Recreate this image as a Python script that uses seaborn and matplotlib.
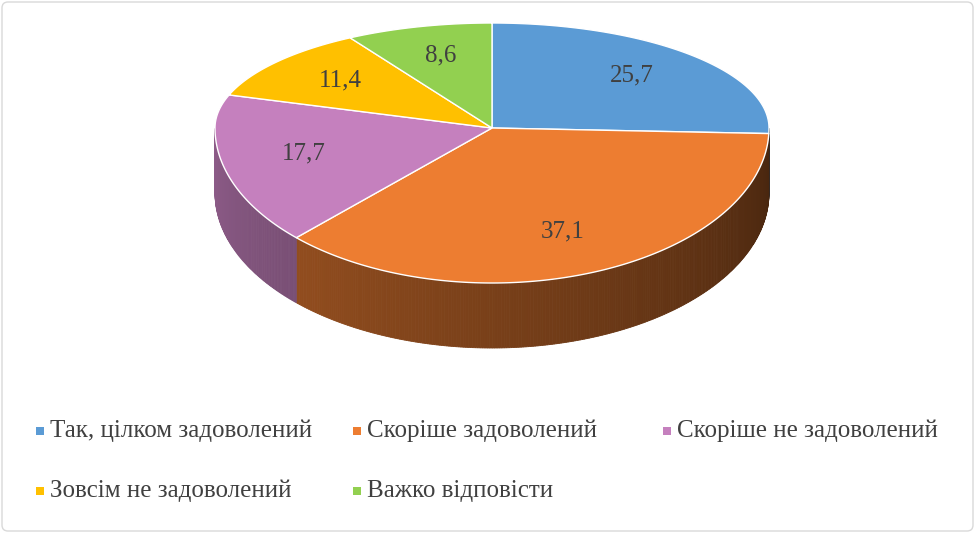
import numpy as np
import matplotlib
matplotlib.use("Agg")
import matplotlib.pyplot as plt
import seaborn as sns
from matplotlib.patches import Polygon, Rectangle, FancyBboxPatch
from matplotlib.colors import to_rgb

sns.set_style("white")
plt.rcParams['font.family'] = ['Liberation Serif', 'DejaVu Serif']

categories = ["Так, цілком задоволений", "Скоріше задоволений", "Скоріше не задоволений",
              "Зовсім не задоволений", "Важко відповісти"]
values = [25.7, 37.1, 17.7, 11.4, 8.6]
labels = ["25,7", "37,1", "17,7", "11,4", "8,6"]
colors = sns.color_palette(["#5B9BD5", "#ED7D31", "#C580BE", "#FFC000", "#92D050"])

fig = plt.figure(figsize=(9.75, 5.33), dpi=100)
ax = fig.add_axes([0, 0, 1, 1])
ax.set_xlim(0, 975); ax.set_ylim(533, 0); ax.axis("off")
ax.add_patch(FancyBboxPatch((2, 2), 971, 529, boxstyle="round,pad=0,rounding_size=6",
                            fc="white", ec="#D9D9D9", lw=1))

cx, cy, rx, ryt, ryb, depth = 492, 128, 277, 105, 155, 65

def pt(th):
    t = np.radians(th)
    s = np.sin(t)
    ry = ryt if s > 0 else ryb
    return cx + rx * np.cos(t), cy - ry * s

tot = sum(values)
starts = []
a = 90.0
for v in values:
    starts.append((a, a - v / tot * 360))
    a -= v / tot * 360

# side walls
for (a0, a1), c in zip(starts, colors):
    lo, hi = sorted([a0, a1])
    for th in np.arange(lo, hi, 0.5):
        thn = min(th + 0.5, hi)
        m = (th + thn) / 2 % 360
        if not (180 <= m <= 360):
            continue
        f = 0.72 - 0.42 * (m - 180) / 180
        col = tuple(ch * f for ch in to_rgb(c))
        p0 = pt(th); p1 = pt(thn)
        poly = [p0, p1, (p1[0], p1[1] + depth), (p0[0], p0[1] + depth)]
        ax.add_patch(Polygon(poly, closed=True, fc=col, ec=col, lw=0.6))

# top faces
for (a0, a1), c, lab in zip(starts, colors, labels):
    ths = np.linspace(a0, a1, 200)
    pts = [(cx, cy)] + [pt(t) for t in ths]
    ax.add_patch(Polygon(pts, closed=True, fc=c, ec="white", lw=1))
    m = (a0 + a1) / 2
    t = np.radians(m)
    ry = ryt if np.sin(t) > 0 else ryb
    lx = cx + 0.7 * rx * np.cos(t)
    ly = cy - 0.72 * ry * np.sin(t)
    ax.text(lx, ly, lab, ha="center", va="center", fontsize=18, color="#404040")

# legend
leg_pos = [(40, 431), (357, 431), (667, 431), (40, 491), (357, 491)]
for (x, y), c, name in zip(leg_pos, colors, categories):
    ax.add_patch(Rectangle((x - 4, y - 4), 8, 8, fc=c, ec="none"))
    ax.text(x + 10, y, name, ha="left", va="center", fontsize=18, color="#404040")

fig.savefig("out.png", dpi=100)
